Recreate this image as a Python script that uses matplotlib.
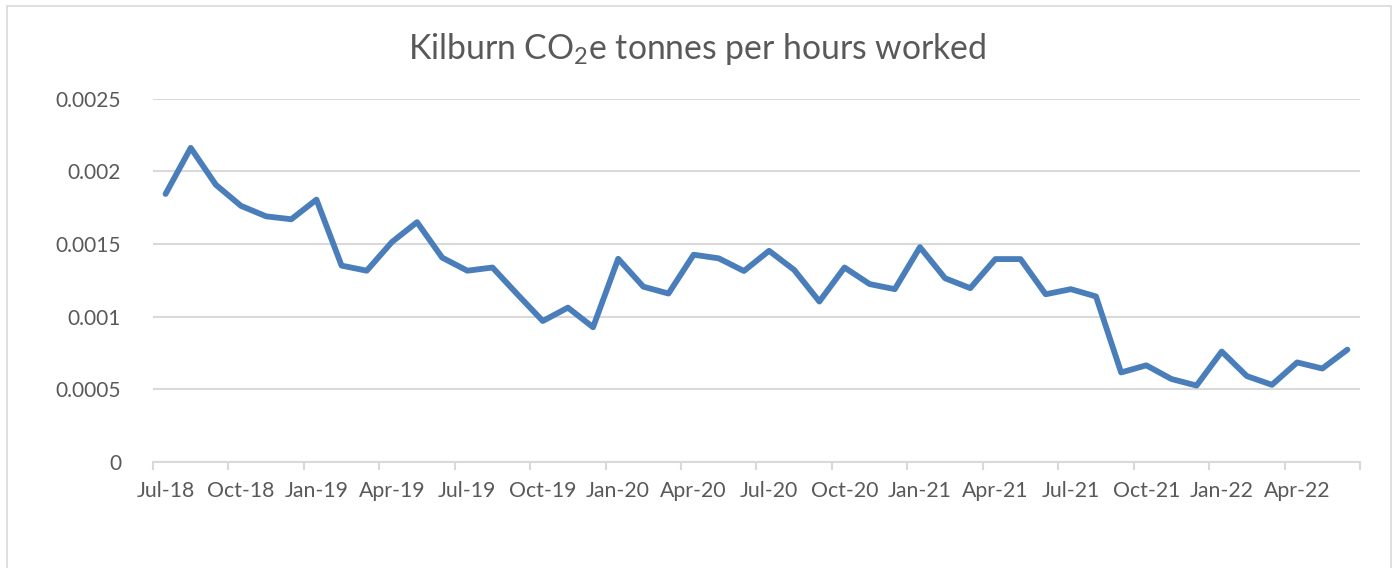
"""Kilburn CO2e tonnes per hours worked — monthly line chart"""
import numpy as np
import matplotlib
matplotlib.use("Agg")
import matplotlib.pyplot as plt
from matplotlib.patches import Rectangle

plt.rcParams["font.family"] = ["Lato", "DejaVu Sans"]
plt.rcParams["mathtext.fontset"] = "custom"
plt.rcParams["mathtext.rm"] = "Lato"

# monthly values, Jul-18 .. Jun-22
months = ["Jul-18", "Aug-18", "Sep-18", "Oct-18", "Nov-18", "Dec-18",
          "Jan-19", "Feb-19", "Mar-19", "Apr-19", "May-19", "Jun-19",
          "Jul-19", "Aug-19", "Sep-19", "Oct-19", "Nov-19", "Dec-19",
          "Jan-20", "Feb-20", "Mar-20", "Apr-20", "May-20", "Jun-20",
          "Jul-20", "Aug-20", "Sep-20", "Oct-20", "Nov-20", "Dec-20",
          "Jan-21", "Feb-21", "Mar-21", "Apr-21", "May-21", "Jun-21",
          "Jul-21", "Aug-21", "Sep-21", "Oct-21", "Nov-21", "Dec-21",
          "Jan-22", "Feb-22", "Mar-22", "Apr-22", "May-22", "Jun-22"]
co2_per_hour = [0.001844, 0.002161, 0.001907, 0.001762, 0.001690, 0.001670,
                0.001805, 0.001351, 0.001316, 0.001513, 0.001650, 0.001406,
                0.001316, 0.001338, 0.001152, 0.000970, 0.001062, 0.000927,
                0.001398, 0.001206, 0.001159, 0.001426, 0.001401, 0.001314,
                0.001453, 0.001321, 0.001104, 0.001338, 0.001224, 0.001189,
                0.001478, 0.001264, 0.001196, 0.001396, 0.001396, 0.001154,
                0.001189, 0.001139, 0.000616, 0.000665, 0.000571, 0.000526,
                0.000760, 0.000591, 0.000531, 0.000685, 0.000643, 0.000773]
y_ticks = [0, 0.0005, 0.001, 0.0015, 0.002, 0.0025]
y_labels = ["0", "0.0005", "0.001", "0.0015", "0.002", "0.0025"]

GRID = "#d9d9d9"
TEXT = "#595959"
LINE = "#4a7ebb"

W, H = 1394, 568
fig = plt.figure(figsize=(W / 100, H / 100), dpi=100)
fig.patch.set_facecolor("white")

# chart-area border
fig.patches.append(Rectangle((7 / W, -0.05), (1391 - 7) / W, 1.05 - 6 / H,
                             transform=fig.transFigure, fill=False,
                             edgecolor=GRID, linewidth=1.2))

ax = fig.add_axes([153 / W, 1 - 462 / H, (1360 - 153) / W, (462 - 98.6) / H])
x = np.arange(len(months))
ax.plot(x, co2_per_hour, color=LINE, lw=4.2, solid_capstyle="round",
        solid_joinstyle="round", zorder=3)

ax.set_xlim(-0.5, len(months) - 0.5)
ax.set_ylim(0, 0.0025)
ax.set_yticks(y_ticks)
ax.set_yticklabels(y_labels)
ax.tick_params(axis="y", length=0, pad=23, labelsize=15, labelcolor=TEXT)
ax.grid(axis="y", color=GRID, lw=1.5, zorder=0)

# major ticks between categories, labels on category centres
ax.set_xticks(np.arange(-0.5, len(months), 3))
ax.set_xticklabels([])
ax.set_xticks(x[::3], minor=True)
ax.set_xticklabels(months[::3], minor=True)
ax.tick_params(axis="x", which="major", length=6, width=1.5, color=GRID)
ax.tick_params(axis="x", which="minor", length=0, pad=14, labelsize=15.3,
               labelcolor=TEXT)

for s in ["top", "right", "left"]:
    ax.spines[s].set_visible(False)
ax.spines["bottom"].set_color(GRID)
ax.spines["bottom"].set_linewidth(1.5)

fig.text(0.5, 1 - 49 / H, r"Kilburn CO$_\mathregular{2}$e tonnes per hours worked",
         ha="center", va="center", fontsize=24.3, color=TEXT)

fig.savefig("out.png", dpi=100)
